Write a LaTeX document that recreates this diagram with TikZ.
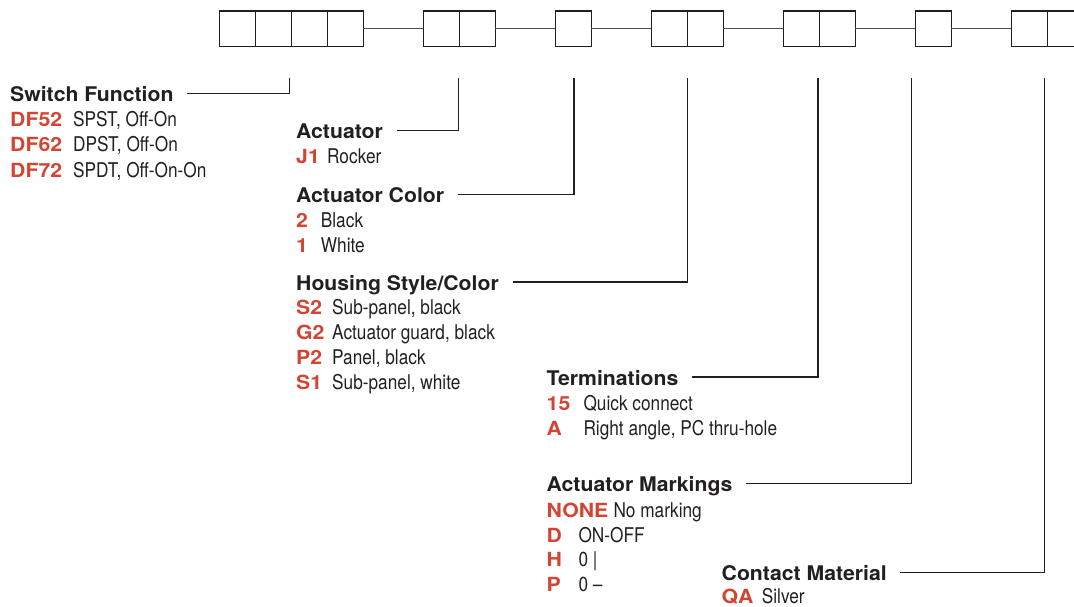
\documentclass[tikz,border=0pt]{standalone}
\usepackage{fontspec}
\setmainfont{TeX Gyre Heros}
\newfontfamily\headfont[FakeStretch=1.05]{TeX Gyre Heros}
\newfontfamily\codefont[FakeStretch=1.09]{TeX Gyre Heros}
\newfontfamily\descfont[FakeStretch=0.85]{TeX Gyre Heros}
\usepackage{xcolor}
\usetikzlibrary{positioning}
\definecolor{codered}{RGB}{211,69,50}
\definecolor{ink}{RGB}{35,31,32}

\begin{document}
\begin{tikzpicture}[
  x=1pt, y=-1pt,
  node distance=60pt,
  cell/.style={draw=ink, line width=1.3pt, minimum width=36pt,
               minimum height=35.7pt, inner sep=0pt, outer sep=0pt},
  link/.style={draw=ink!80, line width=1.2pt},
  lead/.style={draw=ink, line width=1.1pt},
  head/.style={anchor=base west, inner sep=0pt, text=ink,
               text height=16pt, text depth=0pt,
               font=\headfont\bfseries\fontsize{20.2}{24}\selectfont},
  code/.style={anchor=base west, inner sep=0pt, text=codered,
               font=\codefont\bfseries\fontsize{19.5}{23}\selectfont},
  desc/.style={anchor=base west, inner sep=0pt, text=ink,
               font=\descfont\fontsize{20.3}{24}\selectfont}
]
\clip (0,0) rectangle (1074,607);

% part number boxes
\node[cell] at (237.3,28.85) (sf1) {};
\node[cell, right=0pt of sf1] (sf2) {};
\node[cell, right=0pt of sf2] (sf3) {};
\node[cell, right=0pt of sf3] (sf4) {};
\node[cell, right=of sf4]     (ac1) {};
\node[cell, right=0pt of ac1] (ac2) {};
\node[cell, right=of ac2]     (cl)  {};
\node[cell, right=of cl]      (hs1) {};
\node[cell, right=0pt of hs1] (hs2) {};
\node[cell, right=of hs2]     (tm1) {};
\node[cell, right=0pt of tm1] (tm2) {};
\node[cell, right=of tm2]     (mk)  {};
\node[cell, right=of mk]      (ct1) {};
\node[cell, right=0pt of ct1] (ct2) {};

\draw[link] (sf4) -- (ac1);
\draw[link] (ac2) -- (cl);
\draw[link] (cl)  -- (hs1);
\draw[link] (hs2) -- (tm1);
\draw[link] (tm2) -- (mk);
\draw[link] (mk)  -- (ct1);

% option headings
\node[head] (sfHead) at (10,101.5)   {Switch Function};
\node[head] (acHead) at (296,138.5)  {Actuator};
\node[head] (clHead) at (296,202.5)  {Actuator Color};
\node[head] (hsHead) at (296,290)    {Housing Style/Color};
\node[head] (tmHead) at (546.5,385)  {Terminations};
\node[head] (mkHead) at (546.5,491.5){Actuator Markings};
\node[head] (ctHead) at (721.5,580.5){Contact Material};

% option codes
\foreach \c/\d [count=\i] in {DF52/{SPST, Off-On}, DF62/{DPST, Off-On},
                              DF72/{SPDT, Off-On-On}}{
  \node[code] (sfCode\i) at (10,101.5+25.2*\i) {\c};
  \node[desc] (sfText\i) at (73,101.5+25.2*\i) {\d};
}
\node[code] (acCode) at (296,164) {J1};
\node[desc] (acText) at (327,164) {Rocker};
\foreach \c/\d [count=\i] in {2/Black, 1/White}{
  \node[code] (clCode\i) at (296,202.5+25*\i) {\c};
  \node[desc] (clText\i) at (320.7,202.5+25*\i) {\d};
}
\foreach \c/\d [count=\i] in {S2/{Sub-panel, black}, G2/{Actuator guard, black},
                              P2/{Panel, black}, S1/{Sub-panel, white}}{
  \node[code] (hsCode\i) at (296,290+24.8*\i) {\c};
  \node[desc] (hsText\i) at (332,290+24.8*\i) {\d};
}
\foreach \c/\d [count=\i] in {15/Quick connect, A/{Right angle, PC thru-hole}}{
  \node[code] (tmCode\i) at (546.5,385+25*\i) {\c};
  \node[desc] (tmText\i) at (583.3,385+25*\i) {\d};
}
\node[code] (mkCode0) at (546.5,517.3) {NONE};
\node[desc] (mkText0) at (613.3,517.3) {No marking};
\foreach \c/\d [count=\i] in {D/ON-OFF, H/0 |, P/0 –}{
  \node[code] (mkCode\i) at (546.5,517.3+24.8*\i) {\c};
  \node[desc] (mkText\i) at (578.3,517.3+24.8*\i) {\d};
}
\node[code] (ctCode) at (721.5,603.5) {QA};
\node[desc] (ctText) at (761.7,603.5) {Silver};

% leader lines
\coordinate (sfTop) at (289.5,78);
\coordinate (acTop) at (458.5,78);
\coordinate (clTop) at (574,78);
\coordinate (hsTop) at (687.5,78);
\coordinate (tmTop) at (818,78);
\coordinate (mkTop) at (911.5,78);
\coordinate (ctTop) at (1044.5,78);
\draw[lead] ([xshift=13.5pt]sfHead.east) -| (sfTop);
\draw[lead] ([xshift=13.5pt]acHead.east) -| (acTop);
\draw[lead] ([xshift=13.5pt]clHead.east) -| (clTop);
\draw[lead] ([xshift=13.5pt]hsHead.east) -| (hsTop);
\draw[lead] ([xshift=13.5pt]tmHead.east) -| (tmTop);
\draw[lead] ([xshift=13.5pt]mkHead.east) -| (mkTop);
\draw[lead] ([xshift=13.5pt]ctHead.east) -| (ctTop);
\end{tikzpicture}
\end{document}
